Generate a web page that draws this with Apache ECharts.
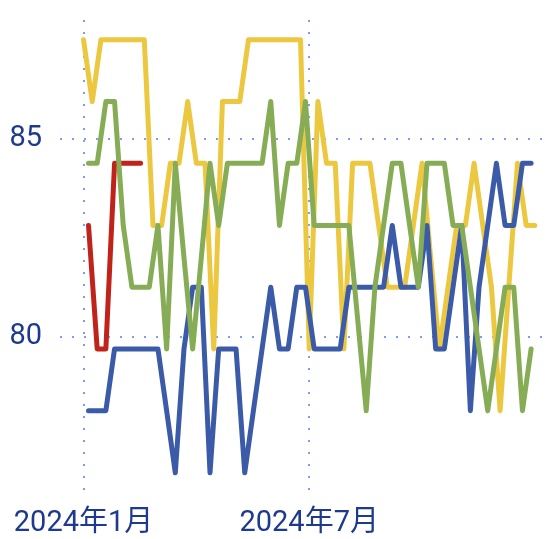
<!DOCTYPE html>
<html><head><meta charset="utf-8">
<script src="https://cdn.jsdelivr.net/npm/echarts@6/dist/echarts.min.js"></script>
<style>html,body{margin:0;padding:0;background:#fff}#c{width:546px;height:539px}</style>
</head><body><div id="c"></div>
<script>
// weekly series; yellow starts Mon 2024-01-01, others start Fri 2024-01-05
const yellowStart = [2024, 0, 1];
const otherStart = [2024, 0, 5];
const yellow = [87.5,85.94,87.5,87.5,87.5,87.5,87.5,87.5,82.81,82.81,84.38,84.38,85.94,84.38,84.38,79.69,85.94,85.94,85.94,87.5,87.5,87.5,87.5,87.5,87.5,87.5,79.69,85.94,84.38,84.38,79.69,84.38,84.38,84.38,82.81,81.25,81.25,81.25,82.81,84.38,82.0,79.69,81.25,82.81,82.81,84.38,82.81,81.25,78.13,81.25,84.38,82.81,82.81];
const green = [84.38,84.38,85.94,85.94,82.81,81.25,81.25,81.25,82.81,79.69,84.38,82.0,79.69,82.0,84.38,82.81,84.38,84.38,84.38,84.38,84.38,85.94,82.81,84.38,84.38,85.94,82.81,82.81,82.81,82.81,82.81,80.47,78.13,81.25,82.81,84.38,84.38,82.81,81.25,84.38,84.38,84.38,82.81,82.81,81.25,79.69,78.13,79.69,81.25,81.25,78.13,79.69];
const blue = [78.13,78.13,78.13,79.69,79.69,79.69,79.69,79.69,79.69,78.13,76.56,79.69,81.25,81.25,76.56,79.69,79.69,79.69,76.56,78.13,79.69,81.25,79.69,79.69,81.25,81.25,79.69,79.69,79.69,79.69,81.25,81.25,81.25,81.25,81.25,82.81,81.25,81.25,81.25,82.81,79.69,79.69,81.25,82.81,78.13,81.25,82.81,84.38,82.81,82.81,84.38,84.38];
const red = [82.81,79.69,79.69,84.38,84.38,84.38,84.38];
const yTicks = [80, 85];
const xTicks = [[2024,0,1],[2024,6,1]];

function weekly(start, vals) {
  return vals.map((v, i) => [+new Date(start[0], start[1], start[2] + 7 * i), v]);
}
const gridColor = '#7f9cf5';
const textColor = '#1d3a8e';
const font = 'Roboto, "Noto Sans CJK SC", sans-serif';
const xTickVals = xTicks.map(d => +new Date(d[0], d[1], d[2]));
const chart = echarts.init(document.getElementById('c'));
const lineSeries = (name, data, color) => ({
  name, type: 'line', data, showSymbol: false, symbol: 'none',
  lineStyle: { color, width: 5, cap: 'round', join: 'round' },
  itemStyle: { color }
});
chart.setOption({
  animation: false,
  grid: { left: 60, right: 0, top: 20, bottom: 44, containLabel: false },
  xAxis: {
    type: 'value',
    min: +new Date(2023, 11, 13), max: +new Date(2025, 0, 8),
    axisLine: { show: false },
    axisTick: { show: false, customValues: xTickVals },
    axisLabel: {
      customValues: xTickVals,
      formatter: v => { const d = new Date(v); return d.getFullYear() + '年' + (d.getMonth() + 1) + '月'; },
      color: textColor, fontSize: 29, fontFamily: font, margin: 14
    },
    splitLine: { show: true, lineStyle: { color: gridColor, width: 2, type: [2, 10] } }
  },
  yAxis: {
    type: 'value', min: 76, max: 88,
    axisLine: { show: false },
    axisTick: { show: false, customValues: yTicks },
    axisLabel: { customValues: yTicks, color: textColor, fontSize: 29, fontFamily: font, margin: 18, padding: [6, 0, 0, 0] },
    splitLine: { show: true, lineStyle: { color: gridColor, width: 2, type: [2, 10] } }
  },
  series: [
    lineSeries('yellow', weekly(yellowStart, yellow), '#ecc841'),
    lineSeries('red', weekly(otherStart, red), '#c0231a'),
    lineSeries('blue', weekly(otherStart, blue), '#3b5ba8'),
    lineSeries('green', weekly(otherStart, green), '#86ad55')
  ]
});
</script></body></html>
